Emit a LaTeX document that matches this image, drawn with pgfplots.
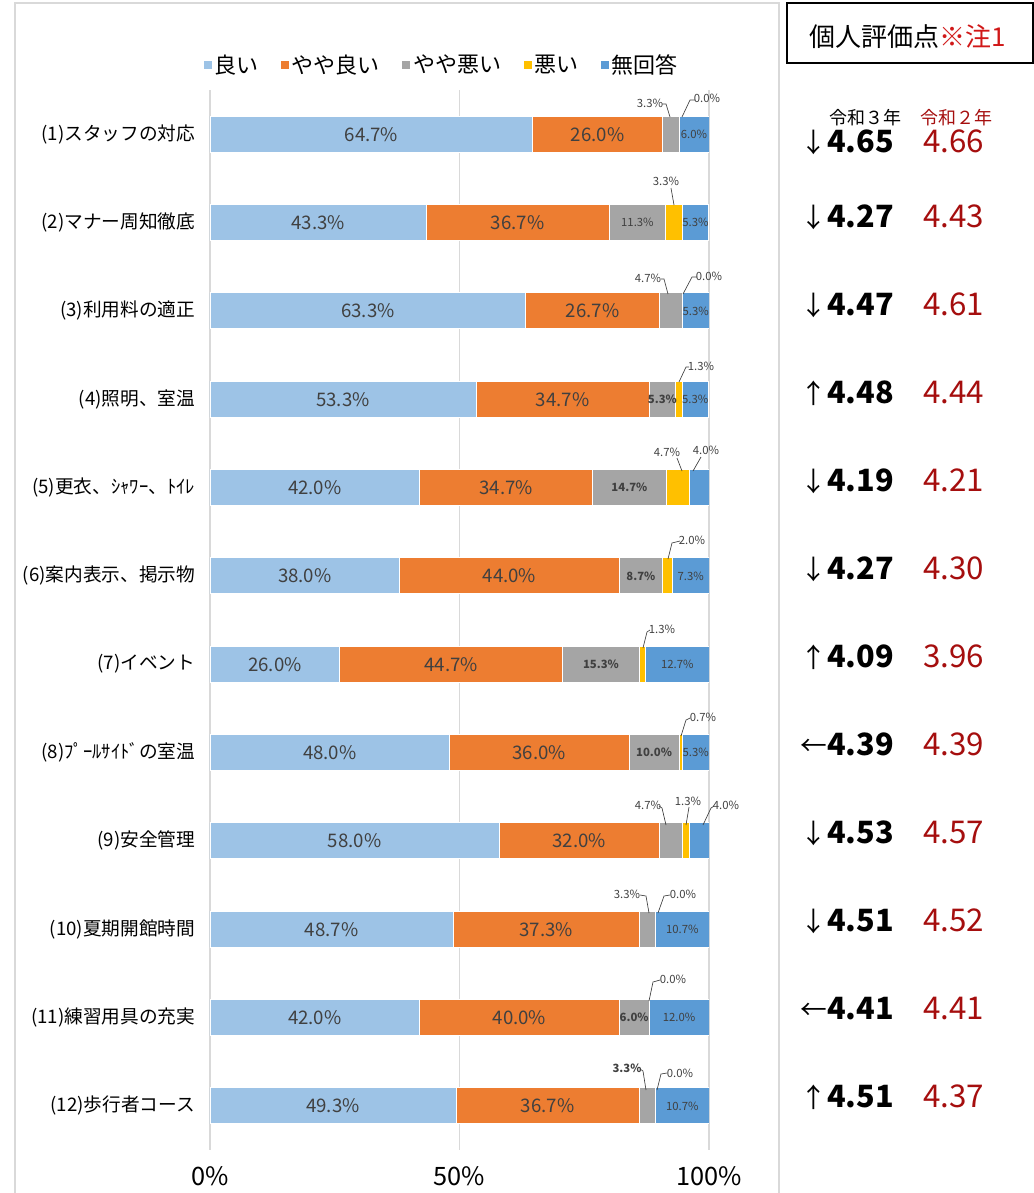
\documentclass[border=0pt]{standalone}
\usepackage{pgfplots}
\pgfplotsset{compat=1.18}
\usepackage{pgfplotstable}
\usepackage{fontspec}
\setmainfont{Noto Sans CJK JP}
\definecolor{c1}{HTML}{9DC3E6}
\definecolor{c2}{HTML}{ED7D31}
\definecolor{c3}{HTML}{A5A5A5}
\definecolor{c4}{HTML}{FFC000}
\definecolor{c5}{HTML}{5B9BD5}
\definecolor{lab}{HTML}{404040}
\definecolor{dred}{HTML}{A50E0E}
\definecolor{tred}{HTML}{D01818}
\definecolor{gridc}{HTML}{D9D9D9}

\pgfplotstableread{
idx good fgood fbad bad none
0  64.7 26.0 3.3  0.0 6.0
1  43.3 36.7 11.3 3.3 5.3
2  63.3 26.7 4.7  0.0 5.3
3  53.3 34.7 5.3  1.3 5.3
4  42.0 34.7 14.7 4.7 4.0
5  38.0 44.0 8.7  2.0 7.3
6  26.0 44.7 15.3 1.3 12.7
7  48.0 36.0 10.0 0.7 5.3
8  58.0 32.0 4.7  1.3 4.0
9  48.7 37.3 3.3  0.0 10.7
10 42.0 40.0 6.0  0.0 12.0
11 49.3 36.7 3.3  0.0 10.7
}\survey

% labels placed in pixel coordinates of the picture: x = 210 + 4.99*percent, y = 134.2 + 88.333*row
\newcommand{\BL}[3]{\node[font=\fontsize{14}{14}\selectfont, text=lab] at ({210+4.99*#1},{134.2+88.333*#2}) {#3};}
\newcommand{\SL}[3]{\node[font=\fontsize{8.5}{9}\selectfont, text=lab] at ({210+4.99*#1},{134.2+88.333*#2}) {#3};}
\newcommand{\SB}[3]{\node[font=\fontsize{8.5}{9}\selectfont\bfseries, text=lab] at ({210+4.99*#1},{134.2+88.333*#2}) {#3};}
\newcommand{\co}[4]{\node[font=\fontsize{8.5}{9}\selectfont, text=lab, inner sep=0pt] at (#1,#2) {#3}; \draw[lab, line width=0.5pt] #4;}
\newcommand{\cob}[4]{\node[font=\fontsize{8.5}{9}\selectfont\bfseries, text=lab, inner sep=0pt] at (#1,#2) {#3}; \draw[lab, line width=0.5pt] #4;}
\newcommand{\score}[4]{%
  \node[anchor=base east, inner sep=0pt, font=\fontsize{20}{20}\selectfont] at (827,#1+10.5) {#2};
  \node[anchor=base west, inner sep=0pt, font=\fontsize{23}{23}\selectfont\bfseries] at (827,#1+10.5) {#3};
  \node[anchor=base west, inner sep=0pt, text=dred, font=\fontsize{23.5}{23.5}\selectfont] at (923,#1+10.5) {#4};}

\begin{document}
\begin{tikzpicture}
\path[use as bounding box] (0,0) rectangle (775.5pt,-894.75pt);
\begin{scope}[x=0.75pt,y=-0.75pt]
  \draw[gridc, line width=1.5pt] (15,1200) -- (15,3) -- (779,3) -- (779,1200);
  \draw[black, line width=1.2pt] (787,3) rectangle (1033,63);
  \node[font=\fontsize{19.5}{20}\selectfont] at (908,37) {個人評価点\textcolor{tred}{※注1}};
  \node[font=\fontsize{13.5}{14}\selectfont] at (865,118) {令和３年};
  \node[font=\fontsize{13.5}{14}\selectfont, text=dred] at (956,118) {令和２年};
  \score{142}{↓}{4.65}{4.66}
  \score{217}{↓}{4.27}{4.43}
  \score{305}{↓}{4.47}{4.61}
  \score{393}{↑}{4.48}{4.44}
  \score{481}{↓}{4.19}{4.21}
  \score{569}{↓}{4.27}{4.30}
  \score{657}{↑}{4.09}{3.96}
  \score{745}{←}{4.39}{4.39}
  \score{833}{↓}{4.53}{4.57}
  \score{921}{↓}{4.51}{4.52}
  \score{1009}{←}{4.41}{4.41}
  \score{1097}{↑}{4.51}{4.37}
\end{scope}
\begin{axis}[
  at={(157.5pt,-862.5pt)}, anchor=south west,
  scale only axis, width=374.25pt, height=795pt,
  xbar stacked, bar width=27pt,
  xmin=0, xmax=100, ymin=-0.5, ymax=11.5, y dir=reverse,
  axis line style={draw=none},
  xmajorgrids, major grid style={draw=gridc, line width=1pt},
  xtick={0,50,100}, xticklabels={0\%,50\%,100\%},
  ytick={0,1,2,3,4,5,6,7,8,9,10,11},
  yticklabels={(1)スタッフの対応,(2)マナー周知徹底,(3)利用料の適正,(4)照明、室温,(5)更衣、ｼｬﾜｰ、ﾄｲﾚ,(6)案内表示、掲示物,(7)イベント,(8)ﾌﾟｰﾙｻｲﾄﾞの室温,(9)安全管理,(10)夏期開館時間,(11)練習用具の充実,(12)歩行者コース},
  major tick length=0pt,
  xticklabel style={font=\fontsize{19}{19}\selectfont, anchor=center, yshift=-19.5pt},
  yticklabel style={font=\fontsize{14}{14}\selectfont, anchor=east, inner sep=0pt, xshift=-11pt},
  legend columns=5,
  legend style={at={(0.465,1.0236)}, anchor=center, draw=none, fill=none,
    font=\fontsize{16.5}{16.5}\selectfont,
    /tikz/every even column/.append style={column sep=15pt},
    /tikz/every odd column/.append style={column sep=0pt}},
  legend image code/.code={\path[#1, draw=none] (0pt,-3pt) rectangle (6pt,3pt);},
]
\addplot[fill=c1, draw=white, line width=0.6pt] table[x=good, y=idx] {\survey};
\addlegendentry{良い}
\addplot[fill=c2, draw=white, line width=0.6pt] table[x=fgood, y=idx] {\survey};
\addlegendentry{やや良い}
\addplot[fill=c3, draw=white, line width=0.6pt] table[x=fbad, y=idx] {\survey};
\addlegendentry{やや悪い}
\addplot[fill=c4, draw=white, line width=0.6pt] table[x=bad, y=idx] {\survey};
\addlegendentry{悪い}
\addplot[fill=c5, draw=white, line width=0.6pt] table[x=none, y=idx] {\survey};
\addlegendentry{無回答}
\end{axis}
\begin{scope}[x=0.75pt,y=-0.75pt]
% big labels
\BL{32.35}{0}{64.7\%}  \BL{77.7}{0}{26.0\%}
\BL{21.65}{1}{43.3\%}  \BL{61.65}{1}{36.7\%}
\BL{31.65}{2}{63.3\%}  \BL{76.65}{2}{26.7\%}
\BL{26.65}{3}{53.3\%}  \BL{70.65}{3}{34.7\%}
\BL{21.0}{4}{42.0\%}   \BL{59.35}{4}{34.7\%}
\BL{19.0}{5}{38.0\%}   \BL{60.0}{5}{44.0\%}
\BL{13.0}{6}{26.0\%}   \BL{48.35}{6}{44.7\%}
\BL{24.0}{7}{48.0\%}   \BL{66.0}{7}{36.0\%}
\BL{29.0}{8}{58.0\%}   \BL{74.0}{8}{32.0\%}
\BL{24.35}{9}{48.7\%}  \BL{67.35}{9}{37.3\%}
\BL{21.0}{10}{42.0\%}  \BL{62.0}{10}{40.0\%}
\BL{24.65}{11}{49.3\%} \BL{67.65}{11}{36.7\%}
% small labels
\SL{97.0}{0}{6.0\%}
\SL{85.65}{1}{11.3\%} \SL{97.3}{1}{5.3\%}
\SL{97.35}{2}{5.3\%}
\SB{90.65}{3}{5.3\%} \SL{97.25}{3}{5.3\%}
\SB{84.05}{4}{14.7\%}
\SB{86.35}{5}{8.7\%} \SL{96.35}{5}{7.3\%}
\SB{78.35}{6}{15.3\%} \SL{93.65}{6}{12.7\%}
\SB{89.0}{7}{10.0\%} \SL{97.35}{7}{5.3\%}
\SL{94.65}{9}{10.7\%}
\SB{85.0}{10}{6.0\%} \SL{94.0}{10}{12.0\%}
\SL{94.65}{11}{10.7\%}
% callouts
  \co{650}{103}{3.3\%}{(662,104)--(666,104)--(670,117)}
  \co{707}{98}{0.0\%}{(695,100)--(690,100)--(682,117)}
  \co{666}{181}{3.3\%}{(671,188)--(674,205)}
  \co{648}{278}{4.7\%}{(661,279)--(664,279)--(668,294)}
  \co{709}{276}{0.0\%}{(697,277)--(692,277)--(683,294)}
  \co{701}{366}{1.3\%}{(689,367)--(686,367)--(679,382)}
  \co{667}{452}{4.7\%}{(677,458)--(682,471)}
  \co{706}{450}{4.0\%}{(701,457)--(693,471)}
  \co{692}{540}{2.0\%}{(680,541)--(672,543)--(668,559)}
  \co{662}{629}{1.3\%}{(650,630)--(647,632)--(643,648)}
  \co{703}{717}{0.7\%}{(690,718)--(686,720)--(681,736)}
  \co{648}{805}{4.7\%}{(659,806)--(662,808)--(666,825)}
  \co{688}{801}{1.3\%}{(689,807)--(686,825)}
  \co{726}{805}{4.0\%}{(714,806)--(711,808)--(703,825)}
  \co{627}{894}{3.3\%}{(640,895)--(646,896)--(649,913)}
  \co{683}{894}{0.0\%}{(670,895)--(664,896)--(658,913)}
  \co{673}{979}{0.0\%}{(660,980)--(653,982)--(649,1001)}
  \cob{627}{1068}{3.3\%}{(640,1069)--(643,1071)--(646,1090)}
  \co{680}{1073}{0.0\%}{(667,1073)--(661,1074)--(657,1090)}
\end{scope}
\end{tikzpicture}
\end{document}
